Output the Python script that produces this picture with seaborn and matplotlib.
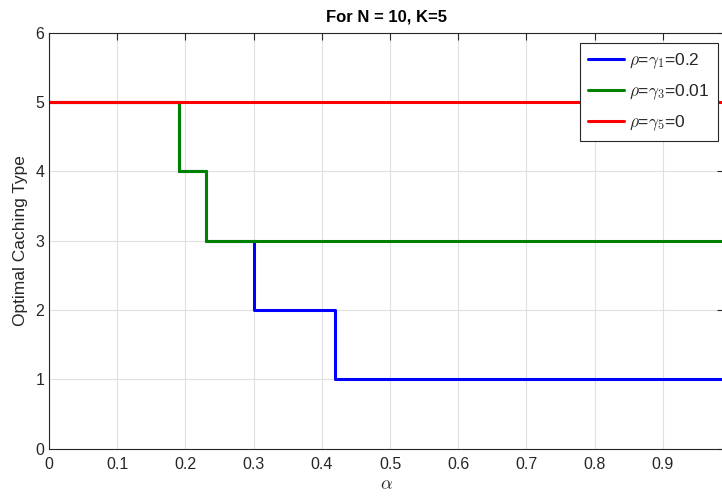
import numpy as np
import pandas as pd
import matplotlib
matplotlib.use("Agg")
import matplotlib.pyplot as plt
import seaborn as sns

# step breakpoints (alpha) and optimal caching type for each curve
alpha_blue = [0.0, 0.19, 0.23, 0.30, 0.42, 0.99]
type_blue = [5, 4, 3, 2, 1, 1]
alpha_green = [0.0, 0.19, 0.23, 0.99]
type_green = [5, 4, 3, 3]
alpha_red = [0.0, 0.99]
type_red = [5, 5]

labels = [r"$\rho$=$\gamma_1$=0.2", r"$\rho$=$\gamma_3$=0.01", r"$\rho$=$\gamma_5$=0"]
colors = ["#0000ff", "#008000", "#ff0000"]

xticks = [0, 0.1, 0.2, 0.3, 0.4, 0.5, 0.6, 0.7, 0.8, 0.9]
yticks = [0, 1, 2, 3, 4, 5, 6]

frames = []
for a, t, lab in zip([alpha_blue, alpha_green, alpha_red],
                     [type_blue, type_green, type_red], labels):
    frames.append(pd.DataFrame({"alpha": a, "type": t, "curve": lab}))
df = pd.concat(frames, ignore_index=True)

sns.set_style("whitegrid")
plt.rcParams["font.family"] = ["Liberation Sans", "DejaVu Sans"]
plt.rcParams["mathtext.fontset"] = "cm"

fig = plt.figure(figsize=(7.22, 4.97), dpi=100)
# axes run slightly past the right edge, as in the reference
ax = fig.add_axes([0.068, 0.097, 0.935, 0.837])

sns.lineplot(data=df, x="alpha", y="type", hue="curve", palette=colors,
             hue_order=labels, drawstyle="steps-post", linewidth=2.2,
             estimator=None, sort=False, ax=ax)

ax.set_xlim(0, 0.99)
ax.set_ylim(0, 6)
ax.set_xticks(xticks)
ax.set_xticklabels([f"{v:g}" for v in xticks])
ax.set_yticks(yticks)
ax.tick_params(axis="both", direction="in", length=5, labelsize=11.5,
               top=True, right=True, color="#262626", labelcolor="#262626")
ax.tick_params(axis="x", pad=6)
ax.grid(True, color="#e0e0e0", linewidth=0.8)
for s in ax.spines.values():
    s.set_color("#262626")
    s.set_linewidth(0.8)

ax.set_xlabel(r"$\alpha$", fontsize=13, color="#262626", labelpad=3)
ax.set_ylabel("Optimal Caching Type", fontsize=12.5, color="#262626", labelpad=5)
ax.set_title("For N = 10, K=5", fontsize=12, fontweight="bold", pad=8, color="black")

leg = ax.legend(loc="upper right", fontsize=12.5, frameon=True, fancybox=False,
                edgecolor="#262626", framealpha=1, borderpad=0.5,
                handlelength=2.05, handletextpad=0.3, labelspacing=0.65,
                borderaxespad=0, bbox_to_anchor=(0.9915, 0.976))
leg.get_frame().set_linewidth(0.8)

fig.savefig("out.png", dpi=100)
